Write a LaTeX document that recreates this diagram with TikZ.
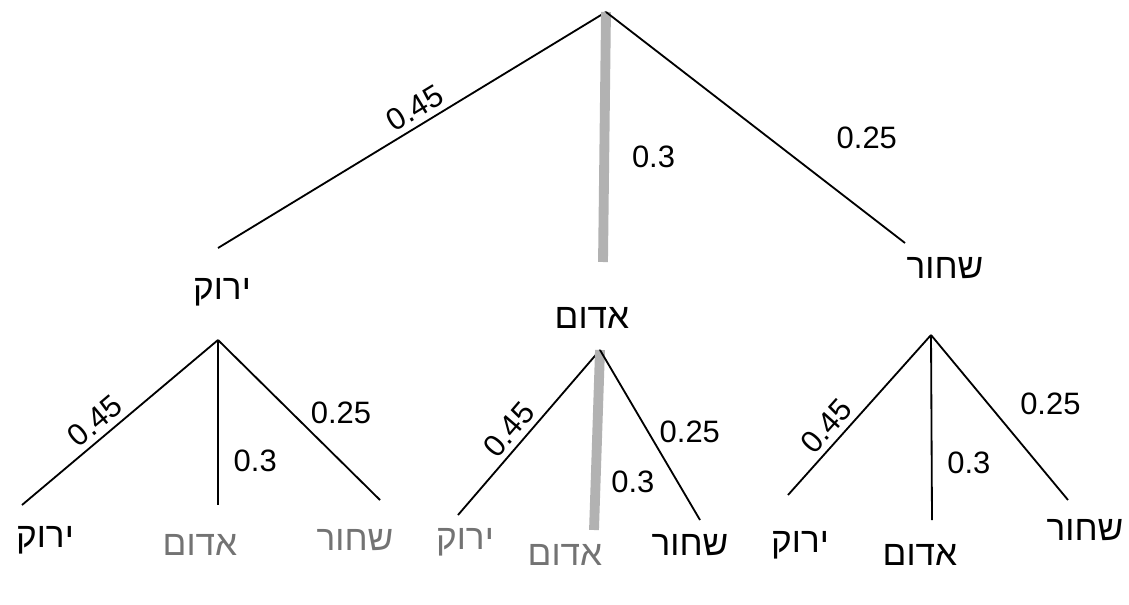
\documentclass[tikz,border=0pt]{standalone}
\usepackage{fontspec}
\setmainfont{Liberation Sans}
\newfontfamily\hebfont[Script=Hebrew]{Liberation Sans}
\TeXXeTstate=1
\usepackage{xcolor}
\usepackage{tikz}
\usetikzlibrary{positioning}
\newcommand{\heb}[1]{{\hebfont\beginR #1\endR}}

\begin{document}
\begin{tikzpicture}[x=0.025cm,y=-0.025cm,
  br/.style={line width=1.3pt},
  hl/.style={line width=7pt,gray!60},
  lab/.style={font=\fontsize{25}{28}\selectfont},
  faint/.style={lab,black!55},
  prob/.style={font=\fontsize{22}{26}\selectfont,inner sep=2pt},
  sprob/.style={prob,sloped,above,inner sep=4pt}]
\useasboundingbox (0,0) rectangle (1129,604);
\coordinate (r) at (606,12);
\coordinate (g) at (218,248);
\coordinate (a) at (603,262);
\coordinate (s) at (905,243);
\node[lab] (gl) at (222,292) {\heb{ירוק}};
\node[lab] (al) at (592,318) {\heb{אדום}};
\node[lab] (sl) at (945,268) {\heb{שחור}};
\draw[br](r)--node[sprob,pos=.47]{0.45}(g);
\draw[hl](r)--node[prob,black,anchor=west,xshift=5mm,pos=.58]{0.3}(a);
\draw[br](r)--node[prob,anchor=west,xshift=16mm,pos=.545]{0.25}(s);
% second level
\coordinate (g0) at (218,340);
\coordinate (a0) at (600,350);
\coordinate (s0) at (931,335);
\coordinate (gg) at (22,505);
\coordinate (ga) at (218,505);
\coordinate (gs) at (380,500);
\coordinate (ag) at (458,515);
\coordinate (aa) at (594,530);
\coordinate (as) at (700,520);
\coordinate (sg) at (788,495);
\coordinate (sa) at (932,520);
\coordinate (ss) at (1068,500);
\draw[br](g0)--node[sprob,pos=.57]{0.45}(gg);
\draw[br](g0)--node[prob,anchor=west,xshift=3mm,pos=.73]{0.3}(ga);
\draw[br](g0)--node[prob,anchor=south west,pos=.55]{0.25}(gs);
\draw[br](a0)--node[sprob,pos=.55]{0.45}(ag);
\draw[hl](a0)--node[prob,black,anchor=west,xshift=2mm,pos=.73]{0.3}(aa);
\draw[br](a0)--node[prob,anchor=west,xshift=2mm,pos=.48]{0.25}(as);
\draw[br](s0)--node[sprob,pos=.64]{0.45}(sg);
\draw[br](s0)--node[prob,anchor=west,xshift=3mm,pos=.69]{0.3}(sa);
\draw[br](s0)--node[prob,anchor=west,xshift=7mm,pos=.42]{0.25}(ss);
% leaves
\node[lab] (ggl) at (45,540) {\heb{ירוק}};
\node[faint] (gal) at (200,545) {\heb{אדום}};
\node[faint] (gsl) at (355,540) {\heb{שחור}};
\node[faint] (agl) at (465,542) {\heb{ירוק}};
\node[faint] (aal) at (565,555) {\heb{אדום}};
\node[lab] (asl) at (690,545) {\heb{שחור}};
\node[lab] (sgl) at (800,545) {\heb{ירוק}};
\node[lab] (sal) at (920,555) {\heb{אדום}};
\node[lab] (ssl) at (1085,530) {\heb{שחור}};
\end{tikzpicture}
\end{document}
